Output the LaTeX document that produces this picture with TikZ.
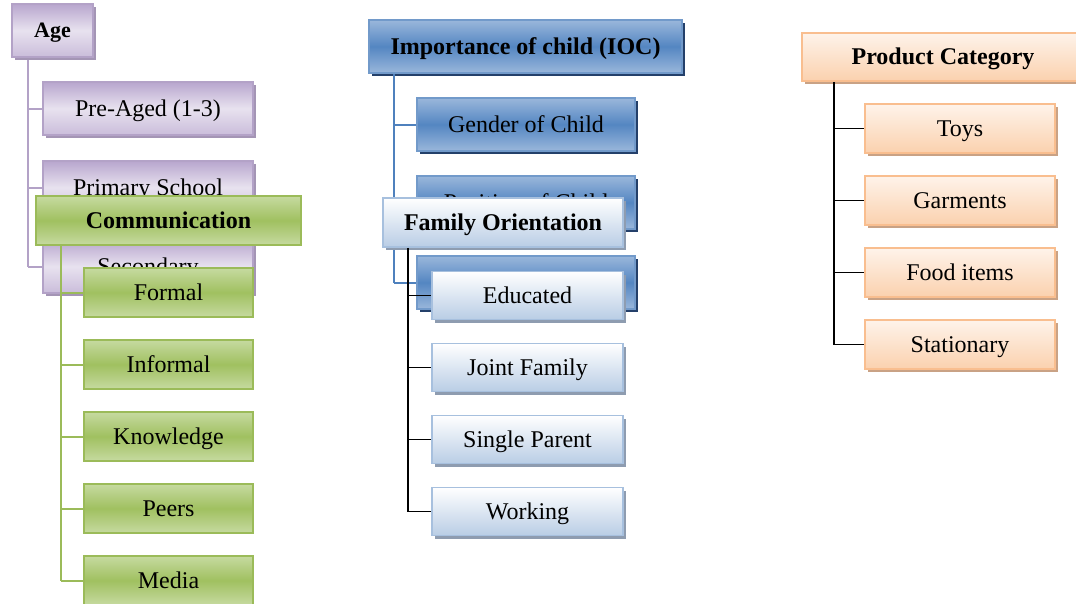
\documentclass[tikz,border=0pt]{standalone}
\usepackage{fontspec}
\setmainfont{Liberation Serif}
\usetikzlibrary{shadows}
\definecolor{purB}{HTML}{B3A2C7}
\definecolor{purT}{HTML}{B8A6CE}
\definecolor{purM}{HTML}{E8E2EF}
\definecolor{purS}{HTML}{A495B5}
\definecolor{grnB}{HTML}{9BBB59}
\definecolor{grnT}{HTML}{C6DAA0}
\definecolor{grnM}{HTML}{A0C060}
\definecolor{bluB}{HTML}{4F81BD}
\definecolor{bluT}{HTML}{9AB7DB}
\definecolor{bluM}{HTML}{5486C2}
\definecolor{bluS}{HTML}{24406A}
\definecolor{lbB}{HTML}{A7C0DE}
\definecolor{lbBot}{HTML}{B9CDE5}
\definecolor{lbS}{HTML}{8E9CB0}
\definecolor{orB}{HTML}{F9BE8F}
\definecolor{orT}{HTML}{FEF3EA}
\definecolor{orBot}{HTML}{FBD1AE}
\definecolor{orS}{HTML}{C9A285}
\tikzset{
  x=1pt, y=-1pt,
  boxbase/.style={draw, line width=1.6pt, inner sep=0pt, align=center,
    text height=15.8pt, text depth=0pt,
    font=\fontsize{24}{28}\selectfont},
  boldtxt/.style={font=\fontsize{24}{28}\selectfont\bfseries},
  purbox/.style={boxbase, draw=purB, top color=purT, bottom color=purT!75!white, middle color=purM,
    general shadow={fill=purS, shadow xshift=3pt, shadow yshift=-3pt},
    minimum width=210pt, minimum height=53pt},
  grnbox/.style={boxbase, draw=grnB, top color=grnT, bottom color=grnT, middle color=grnM,
    minimum width=169pt, minimum height=49pt},
  blubox/.style={boxbase, draw=bluB!80!white, top color=bluT, bottom color=bluT, middle color=bluM,
    general shadow={fill=bluS, shadow xshift=3pt, shadow yshift=-3pt},
    minimum width=218pt, minimum height=53pt},
  lbbox/.style={boxbase, draw=lbB, top color=white, bottom color=lbBot,
    general shadow={fill=lbS, shadow xshift=3pt, shadow yshift=-3pt},
    minimum width=191pt, minimum height=48pt},
  orbox/.style={boxbase, draw=orB, top color=orT, bottom color=orBot,
    general shadow={fill=orS, shadow xshift=3pt, shadow yshift=-3pt},
    minimum width=190pt, minimum height=49pt},
  purline/.style={draw=purB, line width=2pt},
  grnline/.style={draw=grnB, line width=2pt},
  bluline/.style={draw=bluB, line width=2pt},
  blkline/.style={draw=black, line width=1.5pt},
}
\begin{document}
\begin{tikzpicture}
\useasboundingbox (0,0) rectangle (1076,603);
% ---------- Age tree ----------
\coordinate (ageTop) at (28,57);
\coordinate (ageEnd) at (28,266.5);
\draw[purline] (ageTop) -- (ageEnd);
\node[purbox] (pre) at (148,108.5) {Pre-Aged (1-3)};
\node[purbox] (prim) at (148,187.5) {Primary School};
\node[purbox] (sec) at (148,266.5) {Secondary};
\coordinate (preL) at (28,108.5);
\coordinate (primL) at (28,187.5);
\draw[purline] (preL) -- (pre.west);
\draw[purline] (primL) -- (prim.west);
\draw[purline] (ageEnd) -- (sec.west);
\node[purbox, minimum width=81pt, font=\fontsize{22}{26}\selectfont\bfseries, text height=14.5pt] (age) at (52.5,30.5) {Age};
% ---------- Communication tree ----------
\node[grnbox, minimum width=265pt, boldtxt] (comm) at (168.5,220.5) {Communication};
\coordinate (cmA) at (61,292.5);
\coordinate (cmB) at (61,364.5);
\coordinate (cmC) at (61,436.5);
\coordinate (cmD) at (61,508.5);
\coordinate (cmE) at (61,580.5);
\draw[grnline] (comm.south -| cmA) -- (cmE);
\node[grnbox] (formal) at (168.5,292.5) {Formal};
\node[grnbox] (informal) at (168.5,364.5) {Informal};
\node[grnbox] (know) at (168.5,436.5) {Knowledge};
\node[grnbox] (peers) at (168.5,508.5) {Peers};
\node[grnbox] (media) at (168.5,580.5) {Media};
\draw[grnline] (cmA) -- (formal.west);
\draw[grnline] (cmB) -- (informal.west);
\draw[grnline] (cmC) -- (know.west);
\draw[grnline] (cmD) -- (peers.west);
\draw[grnline] (cmE) -- (media.west);
% ---------- IOC tree ----------
\node[blubox, minimum width=313pt, boldtxt] (ioc) at (525.5,46.5) {Importance of child (IOC)};
\coordinate (ioA) at (394,124.5);
\coordinate (ioB) at (394,202.5);
\coordinate (ioC) at (394,282.5);
\draw[bluline] (ioc.south -| ioA) -- (ioC);
\node[blubox] (gender) at (526,124.5) {Gender of Child};
\node[blubox] (pos) at (526,202.5) {Position of Child};
\node[blubox] (third) at (526,282.5) {};
\draw[bluline] (ioA) -- (gender.west);
\draw[bluline] (ioB) -- (pos.west);
\draw[bluline] (ioC) -- (third.west);
% ---------- Family Orientation tree ----------
\node[lbbox, minimum width=240pt, minimum height=49pt, boldtxt] (fo) at (503,222.5) {Family Orientation};
\coordinate (foA) at (408,295.5);
\coordinate (foB) at (408,367.5);
\coordinate (foC) at (408,439.5);
\coordinate (foD) at (408,511.5);
\draw[blkline] (fo.south -| foA) -- (foD);
\node[lbbox] (edu) at (527.5,295.5) {Educated};
\node[lbbox] (joint) at (527.5,367.5) {Joint Family};
\node[lbbox] (single) at (527.5,439.5) {Single Parent};
\node[lbbox] (work) at (527.5,511.5) {Working};
\draw[blkline] (foA) -- (edu.west);
\draw[blkline] (foB) -- (joint.west);
\draw[blkline] (foC) -- (single.west);
\draw[blkline] (foD) -- (work.west);
% ---------- Product Category tree ----------
\node[orbox, minimum width=282pt, minimum height=48pt, boldtxt] (pc) at (943,57) {Product Category};
\coordinate (pcA) at (834,128.5);
\coordinate (pcB) at (834,200.5);
\coordinate (pcC) at (834,272.5);
\coordinate (pcD) at (834,344.5);
\draw[blkline] (pc.south -| pcA) -- (pcD);
\node[orbox] (toys) at (960,128.5) {Toys};
\node[orbox] (garm) at (960,200.5) {Garments};
\node[orbox] (food) at (960,272.5) {Food items};
\node[orbox] (stat) at (960,344.5) {Stationary};
\draw[blkline] (pcA) -- (toys.west);
\draw[blkline] (pcB) -- (garm.west);
\draw[blkline] (pcC) -- (food.west);
\draw[blkline] (pcD) -- (stat.west);
\end{tikzpicture}
\end{document}
